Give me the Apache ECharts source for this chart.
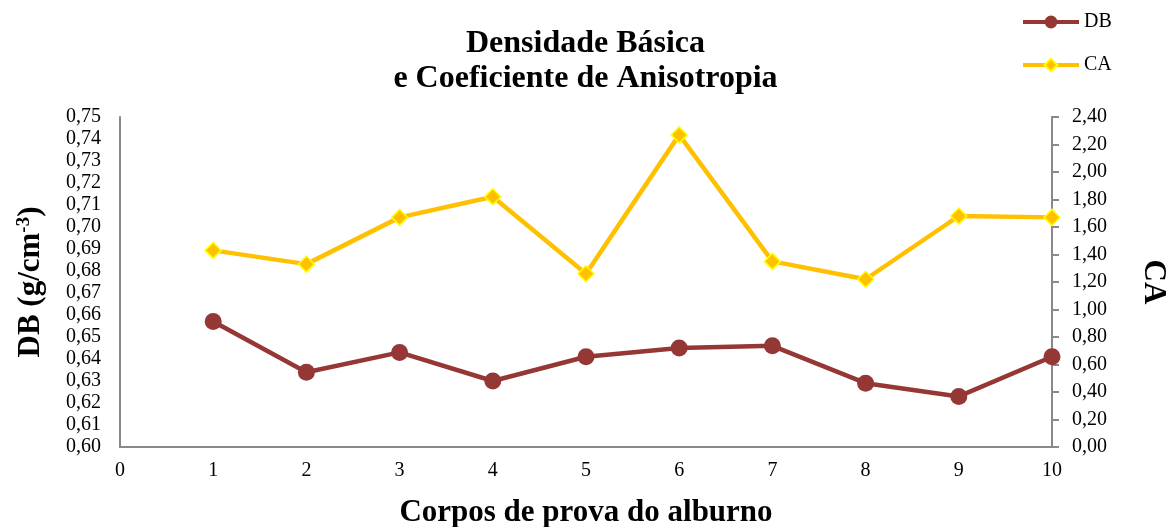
<!DOCTYPE html>
<html>
<head>
<meta charset="utf-8">
<script src="https://cdn.jsdelivr.net/npm/echarts@6/dist/echarts.min.js"></script>
<style>html,body{margin:0;padding:0;background:#fff;overflow:hidden}#c{width:1171px;height:527px}</style>
</head>
<body>
<div id="c"></div>
<script>
const xValues = [1, 2, 3, 4, 5, 6, 7, 8, 9, 10];
const dbValues = [0.657, 0.634, 0.643, 0.630, 0.641, 0.645, 0.646, 0.629, 0.623, 0.641];
const caValues = [1.43, 1.33, 1.67, 1.82, 1.26, 2.27, 1.35, 1.22, 1.68, 1.67];
const titleText = 'Densidade Básica\ne Coeficiente de Anisotropia';
const xName = 'Corpos de prova do alburno';

const font = 'Liberation Serif';
const chart = echarts.init(document.getElementById('c'));
const comma = (d) => (v) => v.toFixed(d).replace('.', ',');
chart.setOption({
  animation: false,
  textStyle: { fontFamily: font },
  title: {
    text: titleText, left: 'center', top: 26, padding: 0,
    textStyle: { fontFamily: font, fontSize: 32, fontWeight: 'bold', color: '#000', lineHeight: 35 }
  },
  legend: {
    orient: 'vertical', left: 1016, top: 7, itemWidth: 56, itemHeight: 16, itemGap: 23,
    textStyle: { fontFamily: font, fontSize: 20, color: '#000' },
    data: [
      { name: 'DB', lineStyle: { width: 4 } },
      { name: 'CA', lineStyle: { width: 4 } }
    ]
  },
  grid: { left: 120, right: 119, top: 117, bottom: 80, containLabel: false, outerBoundsMode: 'none' },
  xAxis: {
    type: 'value', min: 0, max: 10, interval: 1,
    name: xName, nameLocation: 'middle', nameGap: 50, nameMoveOverlap: false,
    nameTextStyle: { fontFamily: font, fontSize: 31, fontWeight: 'bold', color: '#000' },
    axisLine: { lineStyle: { color: '#898989', width: 2 } },
    axisTick: { show: false }, splitLine: { show: false },
    axisLabel: { fontFamily: font, fontSize: 20, color: '#000', margin: 14 }
  },
  yAxis: [{
    type: 'value', min: 0.60, max: 0.75, interval: 0.01,
    name: '{n|DB (g/cm}{s|-3}{n|)}', nameLocation: 'middle', nameGap: 74, nameRotate: 90, nameMoveOverlap: false,
    nameTextStyle: { rich: {
      n: { fontFamily: font, fontSize: 31, fontWeight: 'bold', color: '#000' },
      s: { fontFamily: font, fontSize: 19, fontWeight: 'bold', color: '#000', verticalAlign: 'top', padding: [0, 0, 12, 0] }
    } },
    axisLine: { show: true, lineStyle: { color: '#898989', width: 2 } },
    axisTick: { show: false }, splitLine: { show: false },
    axisLabel: { fontFamily: font, fontSize: 20, color: '#000', margin: 19, formatter: comma(2) }
  }, {
    type: 'value', min: 0, max: 2.4, interval: 0.2, position: 'right',
    name: 'CA', nameLocation: 'middle', nameGap: 86, nameRotate: -90, nameMoveOverlap: false,
    nameTextStyle: { fontFamily: font, fontSize: 31, fontWeight: 'bold', color: '#000' },
    axisLine: { show: true, lineStyle: { color: '#898989', width: 2 } },
    axisTick: { show: true, length: 7, lineStyle: { color: '#898989', width: 2 } },
    splitLine: { show: false },
    axisLabel: { fontFamily: font, fontSize: 20, color: '#000', margin: 20, formatter: comma(2) }
  }],
  series: [{
    name: 'DB', type: 'line', yAxisIndex: 0,
    data: xValues.map((x, i) => [x, dbValues[i]]),
    symbol: 'circle', symbolSize: 17,
    lineStyle: { color: '#953735', width: 4.5 },
    itemStyle: { color: '#953735' }
  }, {
    name: 'CA', type: 'line', yAxisIndex: 1,
    data: xValues.map((x, i) => [x, caValues[i]]),
    symbol: 'diamond', symbolSize: 16,
    lineStyle: { color: '#FFC000', width: 4.5 },
    itemStyle: { color: '#FFC000', borderColor: '#FFFF00', borderWidth: 1.5 }
  }]
});
</script>
</body>
</html>
